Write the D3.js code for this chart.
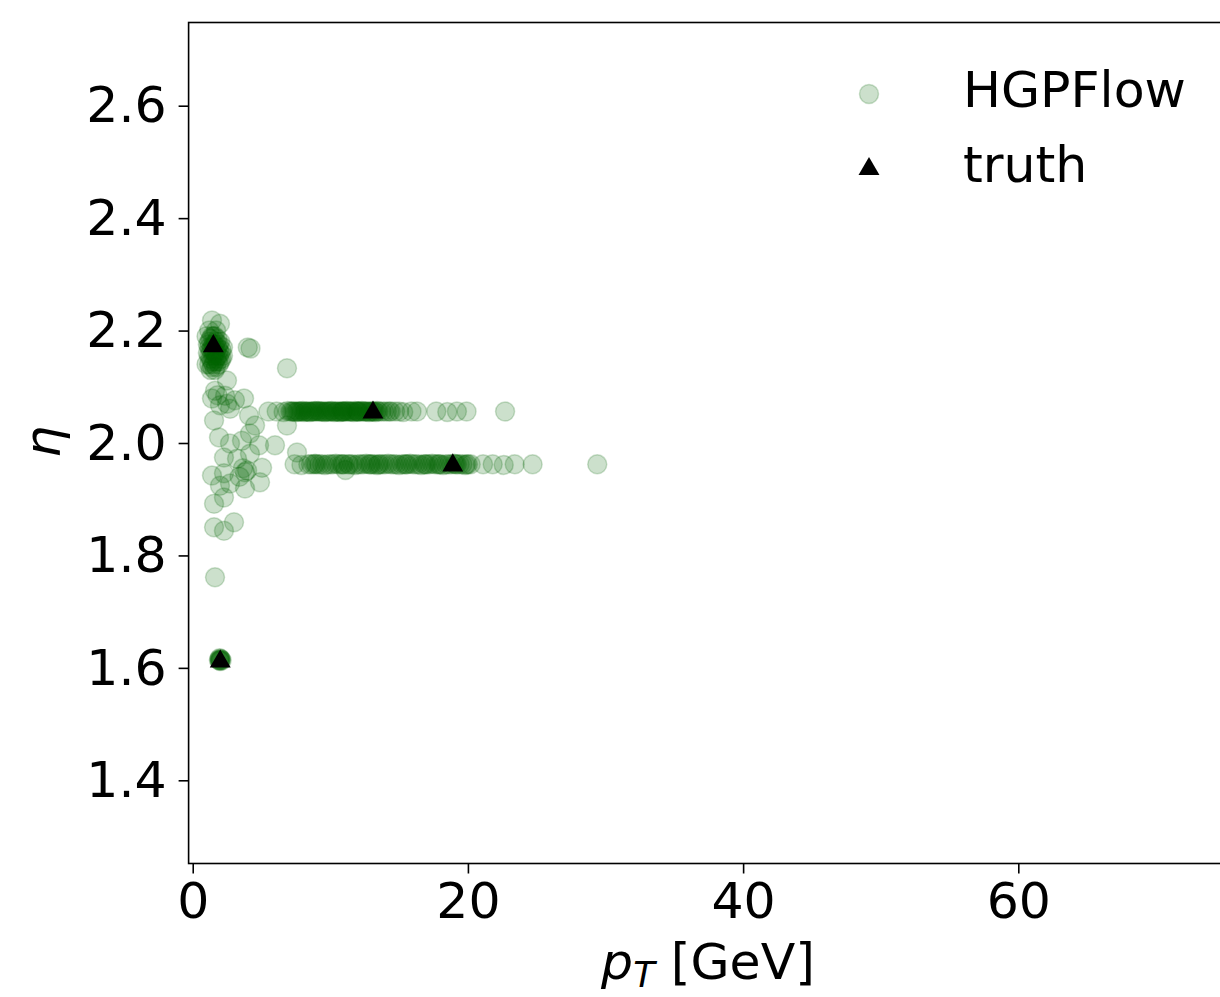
<!DOCTYPE html>
<html>
<head>
<meta charset="utf-8">
<script src="https://cdn.jsdelivr.net/npm/d3@7"></script>
<style>
  html, body { margin: 0; padding: 0; background: #fff; }
  svg { display: block; }
  text { font-family: "DejaVu Sans", sans-serif; }
</style>
</head>
<body>
<svg id="chart" width="1220" height="997"></svg>
<script>
// ---------------- data ----------------
const xTicks = [0, 20, 40, 60];
const yTicks = [1.4, 1.6, 1.8, 2.0, 2.2, 2.4, 2.6];
const xDomain = [-0.3, 75];
const yDomain = [1.252, 2.748];

// HGPFlow predictions [pT, eta] — left cluster
const hgpCluster = [
  [1.0,2.19],[1.2,2.18],[1.4,2.17],[1.6,2.175],[1.8,2.17],[2.0,2.16],[1.1,2.16],[1.3,2.15],
  [1.5,2.14],[1.7,2.15],[1.9,2.155],[2.2,2.17],[1.2,2.2],[1.5,2.19],[1.7,2.2],[1.0,2.14],
  [1.3,2.13],[1.6,2.13],[1.9,2.14],[2.1,2.15],[1.4,2.165],[1.6,2.16],[1.8,2.185],[2.0,2.18],
  [1.2,2.17],[1.5,2.155],[1.8,2.145],[1.98,2.212],[1.40,2.218],
  [1.1,2.175],[1.3,2.185],[1.5,2.175],[1.7,2.165],[1.9,2.175],[2.1,2.165],[1.2,2.155],
  [1.4,2.145],[1.6,2.145],[1.8,2.155],[2.0,2.145],[1.3,2.165],[1.5,2.165],[1.7,2.18],
  [1.4,2.19],[1.6,2.19],[1.2,2.14],[1.4,2.135],[1.7,2.135],[1.9,2.165],[2.2,2.155],
  [4.0,2.17],[4.2,2.168],[6.85,2.133],[2.49,2.111],
  [1.62,2.093],[2.35,2.084],[3.07,2.076],[1.40,2.079],[1.98,2.067],[2.71,2.061],[3.73,2.079],
  [1.8,2.085],[2.5,2.07],
  [1.55,2.040],[4.09,2.049],[4.53,2.031],[6.85,2.031],
  [1.91,2.010],[2.71,1.999],[3.58,2.004],[4.82,1.996],[5.98,1.996],[4.16,2.017],
  [7.58,1.983],[2.27,1.974],[3.22,1.972],[4.16,1.981],
  [3.95,1.951],[3.65,1.955],[5.04,1.956],[1.40,1.942],[2.27,1.946],[3.4,1.94],[3.8,1.948],
  [2.71,1.928],[3.80,1.919],[4.89,1.930],[1.98,1.924],
  [1.55,1.892],[2.27,1.903],
  [1.55,1.850],[2.27,1.844],[3.0,1.859],
  [1.62,1.761],
  [1.9,1.614],[2.0,1.616],[2.1,1.613],[2.0,1.612],[1.95,1.617],[2.05,1.615],[2.0,1.614],[1.95,1.613]
];

// HGPFlow predictions [pT, eta] — upper row
const hgpUpperRow = [
  [5.5,2.056],[6.1,2.056],[6.6,2.055],[6.9,2.057],[7.2,2.056],[7.5,2.055],[7.7,2.056],[8.0,2.057],
  [8.3,2.056],[8.5,2.055],[8.8,2.056],[9.1,2.057],[9.3,2.056],[9.6,2.055],[9.9,2.056],[10.1,2.057],
  [10.4,2.056],[10.7,2.055],[10.9,2.056],[11.2,2.057],[11.5,2.056],[11.7,2.055],[12.0,2.056],
  [12.3,2.057],[12.5,2.056],[12.8,2.055],[13.1,2.056],[13.4,2.057],[13.7,2.056],[14.1,2.056],
  [14.7,2.056],[15.3,2.055],[15.9,2.056],[16.3,2.056],[17.7,2.056],[18.5,2.055],[19.2,2.056],
  [19.9,2.056],[22.7,2.056],
  [7.4,2.056],[8.1,2.055],[8.9,2.057],[9.5,2.056],[10.3,2.055],[11.0,2.056],[11.8,2.057],
  [12.6,2.056],[13.3,2.055],[10.6,2.056],[11.4,2.056],[9.0,2.056],[12.2,2.056],
  [7.1,2.056],[7.3,2.056],[7.6,2.056],[7.9,2.056],[8.2,2.056],[8.4,2.056],[8.7,2.056],[9.2,2.056],
  [9.4,2.056],[9.7,2.056],[10.0,2.056],[10.2,2.056],[10.5,2.056],[10.8,2.056],[11.1,2.056],
  [11.3,2.056],[11.6,2.056],[11.9,2.056],[12.1,2.056],[12.4,2.056],[12.7,2.056],[12.9,2.056],
  [13.2,2.056],[13.5,2.056],[13.9,2.056],[14.3,2.056],[7.8,2.056],[8.6,2.056],[9.8,2.056],
  [10.9,2.056],[12.0,2.056],[13.0,2.056],[14.4,2.056],[15.0,2.056]
];

// HGPFlow predictions [pT, eta] — lower row
const hgpLowerRow = [
  [7.4,1.962],[7.9,1.961],[8.4,1.962],[8.9,1.963],[9.2,1.962],[9.6,1.961],[10.0,1.962],[10.4,1.963],
  [10.8,1.962],[11.1,1.952],[11.4,1.962],[11.8,1.961],[12.2,1.962],[12.6,1.963],[13.0,1.962],
  [13.4,1.961],[13.8,1.962],[14.2,1.963],[14.6,1.962],[15.0,1.961],[15.4,1.962],[15.8,1.963],
  [16.2,1.962],[16.6,1.961],[17.0,1.962],[17.4,1.963],[17.8,1.962],[18.2,1.961],[18.6,1.962],
  [19.0,1.963],[19.4,1.962],[19.8,1.961],[20.2,1.962],[21.1,1.962],[21.8,1.962],[22.6,1.961],
  [23.4,1.962],[24.7,1.962],[29.4,1.962],
  [9.0,1.962],[10.2,1.962],[11.6,1.962],[12.9,1.962],[14.0,1.962],[15.2,1.962],[16.4,1.962],
  [17.6,1.962],[18.8,1.962],[19.6,1.962],[8.6,1.962],[13.6,1.962],[16.9,1.962],
  [8.8,1.962],[9.4,1.962],[9.8,1.962],[10.6,1.962],[11.0,1.962],[11.3,1.962],[12.0,1.962],
  [12.4,1.962],[12.8,1.962],[13.2,1.962],[14.4,1.962],[14.8,1.962],[15.6,1.962],[16.0,1.962],
  [16.8,1.962],[17.2,1.962],[18.0,1.962],[18.4,1.962],[19.2,1.962],[19.9,1.962],[10.9,1.962],
  [13.5,1.962],[15.5,1.962],[17.9,1.962],[19.1,1.962],[20.0,1.962]
];

// truth particles [pT, eta]
const truthPoints = [[1.5,2.174],[13.1,2.056],[18.9,1.962],[2.0,1.613]];

const legendLabels = ["HGPFlow", "truth"];
const xLabelMain = "p", xLabelSub = "T", xLabelUnit = " [GeV]";
const yLabel = "η";

// ---------------- drawing ----------------
(function () {
  const svg = d3.select("#chart");
  const pl = 188.6, pt = 22.5, pb = 863.5, pr = 1224.7;
  const green = "#006400";
  const fontSize = 50.5;

  const x = d3.scaleLinear().domain(xDomain).range([pl, pr]);
  const y = d3.scaleLinear().domain(yDomain).range([pb, pt]);

  svg.append("defs").append("clipPath").attr("id", "plotclip")
    .append("rect").attr("x", pl).attr("y", pt).attr("width", pr - pl).attr("height", pb - pt);

  const plot = svg.append("g").attr("clip-path", "url(#plotclip)");

  const allHgp = hgpCluster.concat(hgpUpperRow, hgpLowerRow);
  plot.selectAll("circle.hgp").data(allHgp).enter().append("circle")
    .attr("class", "hgp")
    .attr("cx", d => x(d[0])).attr("cy", d => y(d[1])).attr("r", 9.5)
    .attr("fill", green).attr("fill-opacity", 0.2)
    .attr("stroke", green).attr("stroke-opacity", 0.2).attr("stroke-width", 1.5);

  const tri = d3.symbol().type(d3.symbolTriangle).size(190);
  plot.selectAll("path.truth").data(truthPoints).enter().append("path")
    .attr("class", "truth")
    .attr("transform", d => `translate(${x(d[0])},${y(d[1]) + 1})`)
    .attr("d", tri).attr("fill", "#000");

  const xAxis = d3.axisBottom(x).tickValues(xTicks).tickFormat(d3.format("d")).tickSize(10).tickPadding(9);
  const yAxis = d3.axisLeft(y).tickValues(yTicks).tickFormat(d3.format(".1f")).tickSize(10).tickPadding(12);

  const gx = svg.append("g").attr("transform", `translate(0,${pb})`).call(xAxis);
  const gy = svg.append("g").attr("transform", `translate(${pl},0)`).call(yAxis);
  [gx, gy].forEach(g => {
    g.select(".domain").remove();
    g.selectAll(".tick line").attr("stroke", "#000").attr("stroke-width", 1.6);
    g.selectAll(".tick text").attr("fill", "#000").style("font-size", fontSize + "px")
      .style("font-family", "'DejaVu Sans', sans-serif");
  });

  svg.append("rect").attr("x", pl).attr("y", pt).attr("width", pr - pl).attr("height", pb - pt)
    .attr("fill", "none").attr("stroke", "#000").attr("stroke-width", 1.6);

  const xl = svg.append("text").attr("x", 708).attr("y", 979).attr("text-anchor", "middle")
    .style("font-size", fontSize + "px").attr("fill", "#000");
  xl.append("tspan").style("font-style", "italic").text(xLabelMain);
  xl.append("tspan").style("font-style", "italic").style("font-size", (fontSize * 0.7) + "px")
    .attr("dy", 8).text(xLabelSub);
  xl.append("tspan").attr("dy", -8).text(xLabelUnit);

  svg.append("text").attr("transform", `translate(60,442) rotate(-90)`).attr("text-anchor", "middle")
    .style("font-size", fontSize + "px").style("font-style", "italic").attr("fill", "#000").text(yLabel);

  const lg = svg.append("g");
  lg.append("circle").attr("cx", 869).attr("cy", 94).attr("r", 9.5)
    .attr("fill", green).attr("fill-opacity", 0.2)
    .attr("stroke", green).attr("stroke-opacity", 0.2).attr("stroke-width", 1.5);
  lg.append("path").attr("transform", "translate(869,169)").attr("d", tri).attr("fill", "#000");
  lg.selectAll("text").data(legendLabels).enter().append("text")
    .attr("x", 963).attr("y", (d, i) => 107 + i * 75)
    .style("font-size", fontSize + "px").attr("fill", "#000").text(d => d);
})();
</script>
</body>
</html>
